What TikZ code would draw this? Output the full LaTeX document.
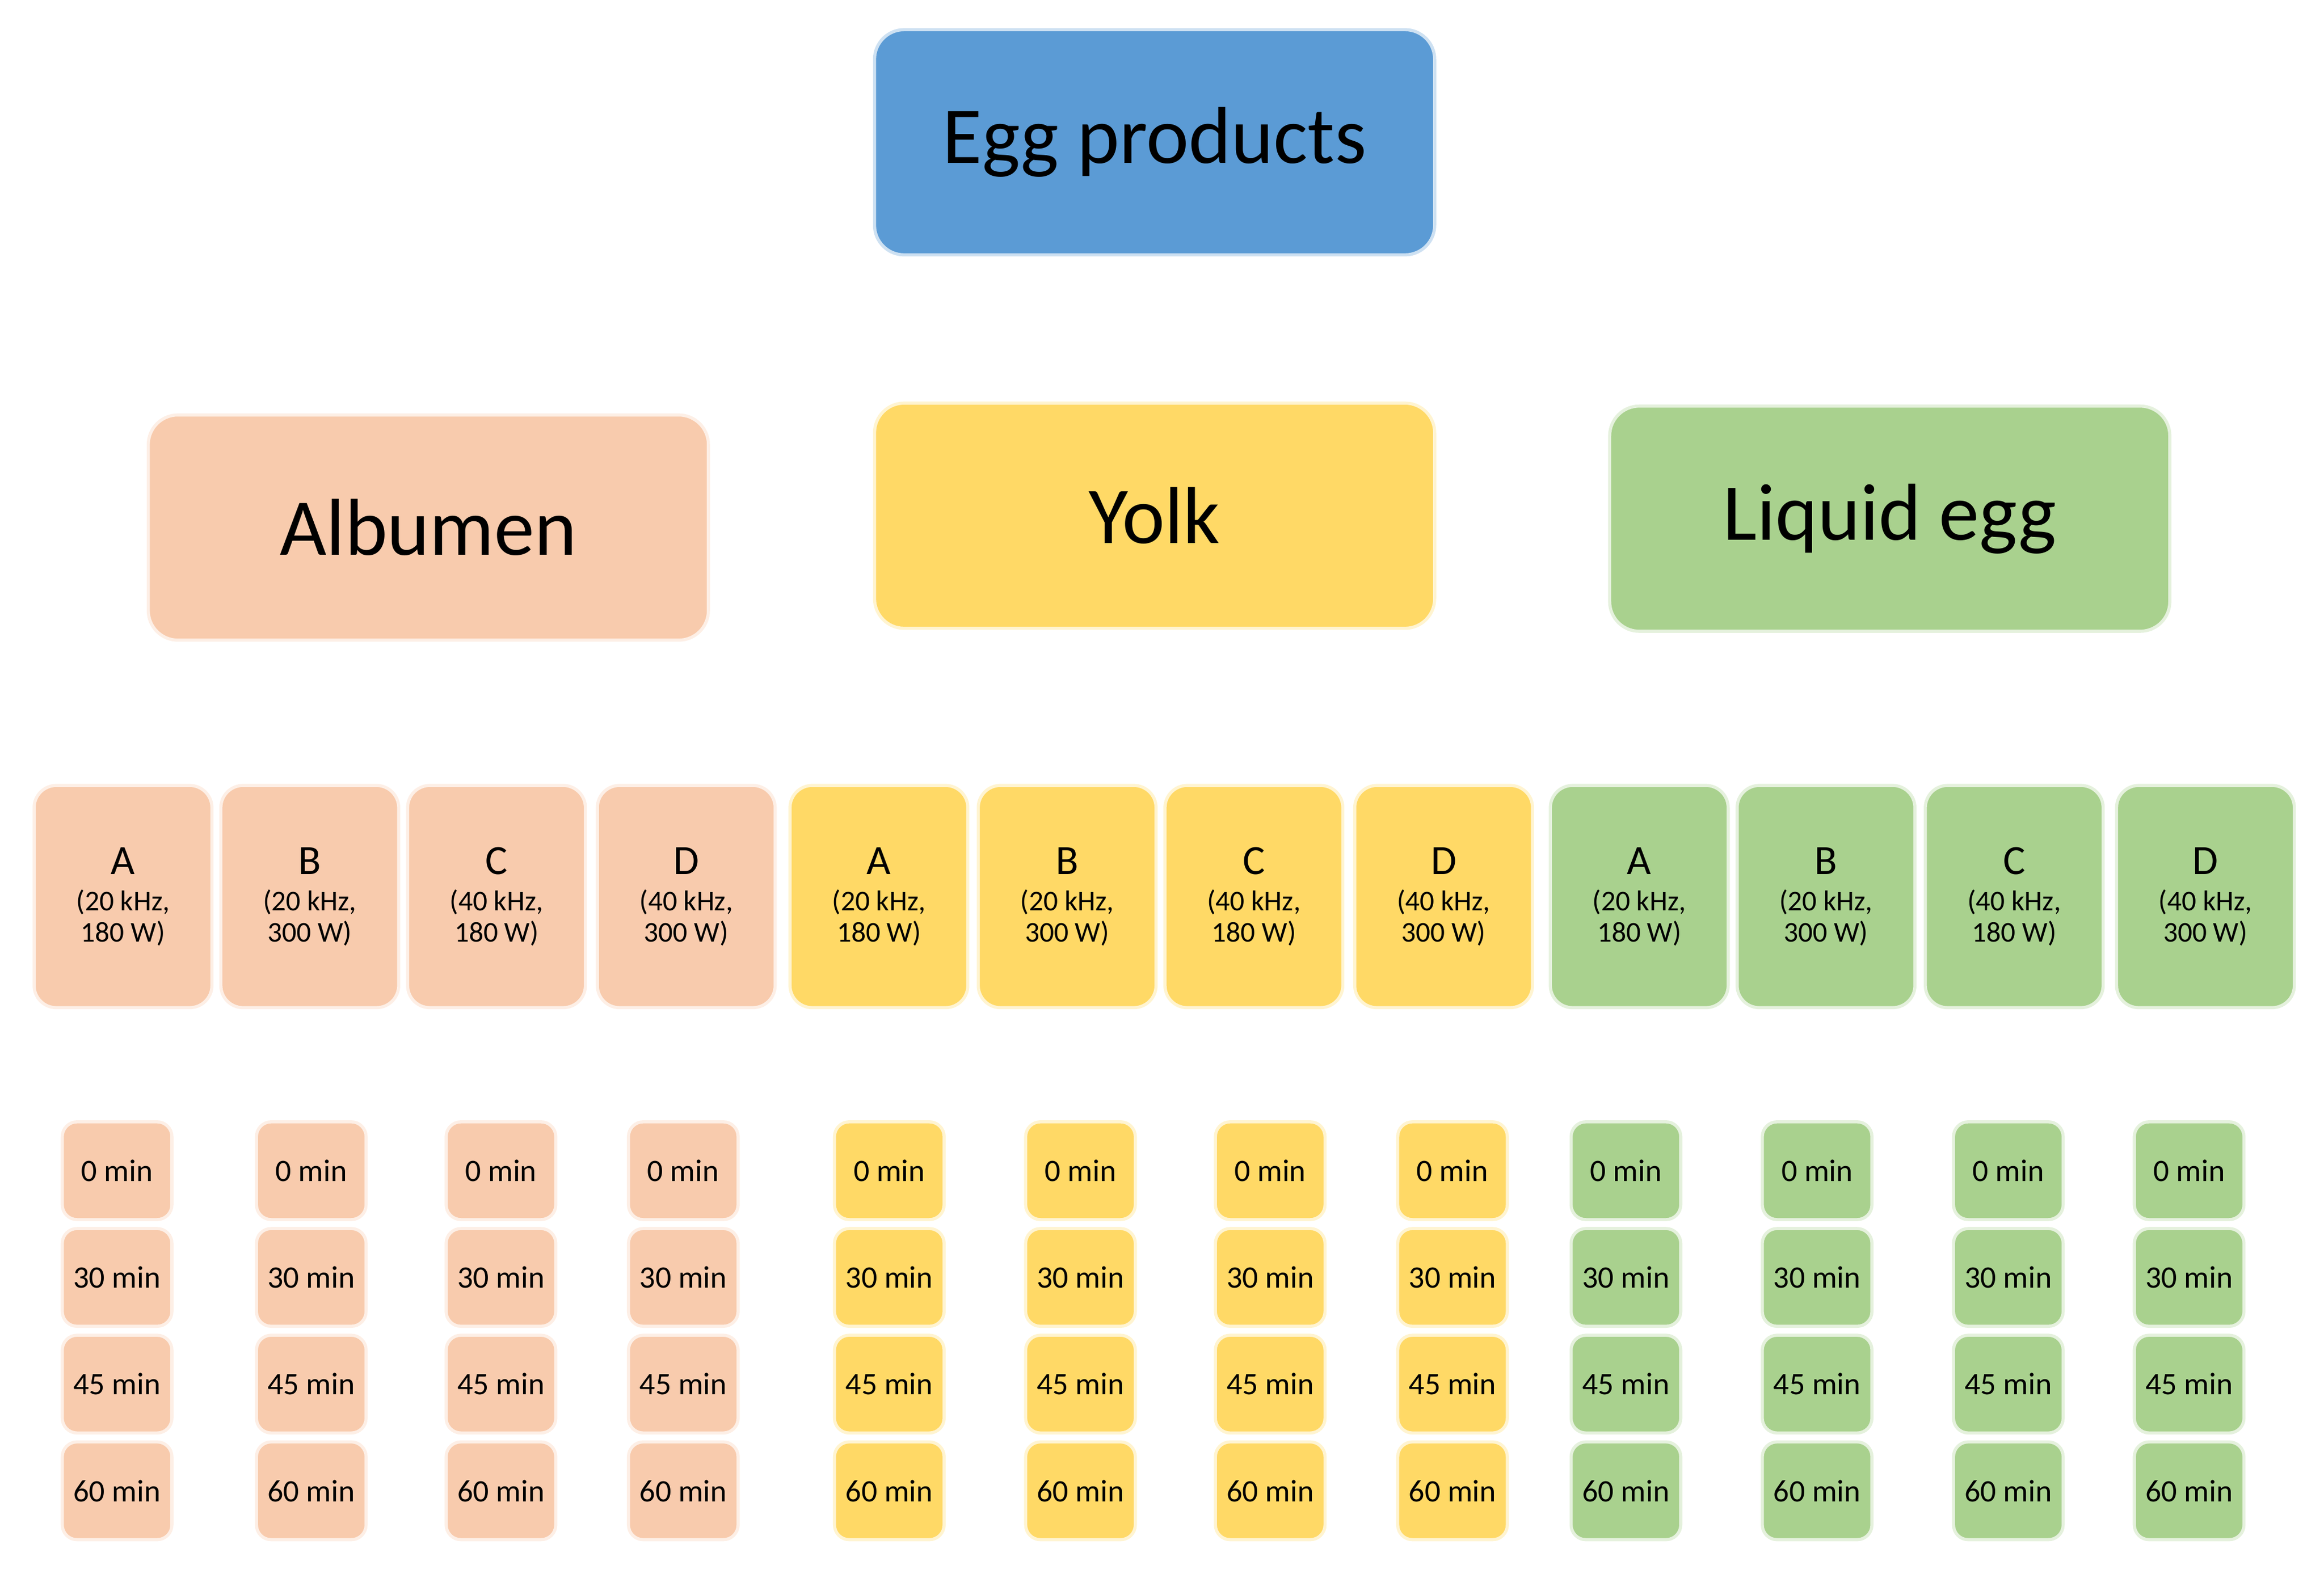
\documentclass[tikz,border=0pt]{standalone}
\usepackage{fontspec}
\setmainfont{Carlito}
\begin{document}
\begin{tikzpicture}[x=0.02cm,y=-0.02cm,
 box/.style={draw=white!70!#1, line width=1.2pt, fill=#1, rounded corners=0.4cm, inner sep=0, align=center},
 big/.style={box=#1, minimum width=7.56cm, minimum height=3.04cm, font=\fontsize{31}{36}\selectfont},
 mid/.style={box=#1, minimum width=2.4cm, minimum height=3cm, rounded corners=0.3cm},
 tm/.style={box=#1, minimum width=1.48cm, minimum height=1.32cm, rounded corners=0.2cm, font=\fontsize{12}{14}\selectfont}]
\definecolor{eb}{HTML}{5B9BD5}
\definecolor{ca}{HTML}{F8CBAD}
\definecolor{cy}{HTML}{FFD966}
\definecolor{cl}{HTML}{A9D18E}
\useasboundingbox (0,0) rectangle (1568,1062);
\node[big=eb] (egg) at (779,96) {Egg products};
\node[big=ca] (alb) at (289,356) {Albumen};
\node[big=cy] (yolk) at (779,348) {Yolk};
\node[big=cl] (liq) at (1275,350) {Liquid egg};
\foreach \x/\tx/\c/\L/\f/\p [count=\i] in {
 83/79/ca/A/20/180, 209/210/ca/B/20/300, 335/338/ca/C/40/180, 463/461/ca/D/40/300,
 593/600/cy/A/20/180, 720/729/cy/B/20/300, 846/857/cy/C/40/180, 974/980/cy/D/40/300,
 1106/1097/cl/A/20/180, 1232/1226/cl/B/20/300, 1359/1355/cl/C/40/180, 1488/1477/cl/D/40/300}{
 \node[mid=\c] (m\i) at (\x,605) {{\fontsize{16}{20}\selectfont \L}\\[2pt]{\fontsize{11}{16}\selectfont (\f\ kHz,}\\{\fontsize{11}{14}\selectfont \p\ W)}};
 \foreach \y/\t [count=\j] in {790/0,862/30,934/45,1006/60}
 \node[tm=\c] (t\i-\j) at (\tx,\y) {\t\ min};
}
\end{tikzpicture}
\end{document}
